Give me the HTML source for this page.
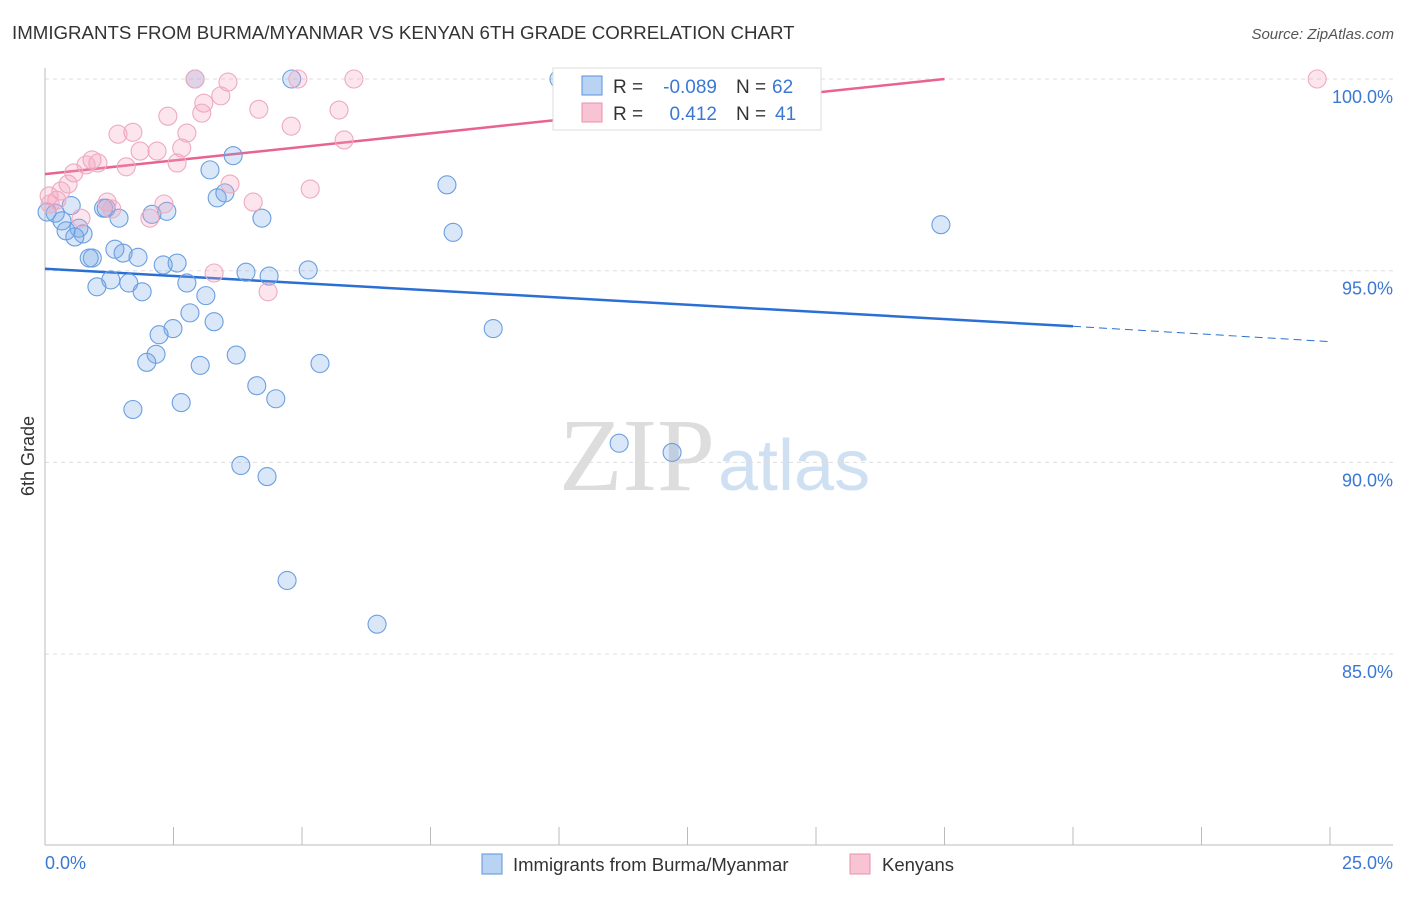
<!DOCTYPE html>
<html><head><meta charset="utf-8"><style>
body{margin:0;background:#fff;font-family:"Liberation Sans",sans-serif}
</style></head><body>
<svg width="1406" height="892" xmlns="http://www.w3.org/2000/svg">
<text x="12" y="39" font-size="18.7" fill="#333">IMMIGRANTS FROM BURMA/MYANMAR VS KENYAN 6TH GRADE CORRELATION CHART</text>
<text x="1394" y="39" font-size="15" fill="#555" font-style="italic" text-anchor="end">Source: ZipAtlas.com</text>
<text x="715" y="490" font-size="104" fill="#ddd" text-anchor="end" font-family="Liberation Serif">ZIP</text>
<text x="718" y="490" font-size="72" fill="#cfe0f3">atlas</text>
<g id="grid"></g>
<line x1="45" y1="68" x2="45" y2="845" stroke="#bbb"/>
<line x1="45" y1="845" x2="1393" y2="845" stroke="#bbb"/>
<text x="34" y="456" font-size="18" fill="#333" transform="rotate(-90 34 456)" text-anchor="middle">6th Grade</text>
<text x="45" y="869" font-size="18" fill="#3a78d4">0.0%</text>
<text x="1393" y="869" font-size="18" fill="#3a78d4" text-anchor="end">25.0%</text>
<g id="ticks"></g>
<g id="lines"></g>
<g id="pts"></g>
<g>
<rect x="553" y="68" width="268" height="62" fill="#fff" stroke="#ddd"/>
<rect x="582" y="76" width="20" height="19" fill="#b9d3f3" stroke="#5a92dc"/>
<rect x="582" y="103" width="20" height="19" fill="#f8c3d3" stroke="#e891ae"/>
<text x="613" y="93" font-size="19" fill="#333">R =</text>
<text x="717" y="93" font-size="19" fill="#3a78d4" text-anchor="end">-0.089</text>
<text x="736" y="93" font-size="19" fill="#333">N =</text>
<text x="772" y="93" font-size="19" fill="#3a78d4">62</text>
<text x="613" y="120" font-size="19" fill="#333">R =</text>
<text x="717" y="120" font-size="19" fill="#3a78d4" text-anchor="end">0.412</text>
<text x="736" y="120" font-size="19" fill="#333">N =</text>
<text x="775" y="120" font-size="19" fill="#3a78d4">41</text>
</g>
<g>
<rect x="482" y="854" width="20" height="20" fill="#b9d3f3" stroke="#5a92dc"/>
<text x="513" y="871" font-size="18.5" fill="#333">Immigrants from Burma/Myanmar</text>
<rect x="850" y="854" width="20" height="20" fill="#f8c3d3" stroke="#e891ae"/>
<text x="882" y="871" font-size="18.5" fill="#333">Kenyans</text>
</g>
</svg>
<script>
const yTicks=[100,95,90,85];
const xTicks=[0,2.5,5,7.5,10,12.5,15,17.5,20,22.5,25];
const blueX=[2.92,4.8,10.0,12.84,3.66,3.21,7.82,3.35,3.5,0.51,1.14,1.19,2.08,2.37,4.22,1.44,0.2,0.04,0.33,0.66,0.41,0.74,0.58,7.94,17.43,1.36,1.52,1.81,0.92,0.86,2.3,2.57,3.91,4.36,5.12,1.28,1.63,2.76,1.01,1.89,3.13,2.82,3.29,2.49,2.22,8.72,2.16,3.72,1.98,3.02,5.35,4.12,4.49,2.65,1.71,11.17,12.2,3.81,4.32,4.71,6.46];
const blueY=[100,100,100,100,98.0,97.63,97.24,96.9,97.03,96.7,96.63,96.63,96.47,96.55,96.37,96.37,96.5,96.53,96.3,96.11,96.04,95.96,95.88,96.0,96.2,95.56,95.46,95.35,95.33,95.33,95.15,95.2,94.96,94.86,95.02,94.76,94.68,94.68,94.58,94.45,94.35,93.9,93.67,93.49,93.33,93.49,92.82,92.8,92.61,92.53,92.58,92.0,91.66,91.56,91.38,90.5,90.26,89.92,89.63,86.92,85.78];
const pinkX=[2.92,3.56,4.92,6.01,10.31,24.75,3.42,3.09,3.05,2.39,4.16,5.72,4.79,1.71,1.42,2.76,5.82,2.66,2.18,1.85,0.915,1.03,0.8,2.57,1.58,0.56,0.45,0.31,3.6,5.16,4.05,1.21,2.315,0.08,0.23,0.1,1.3,2.04,0.7,3.29,4.34];
const pinkY=[100,99.92,100,100,100,100,99.56,99.37,99.11,99.03,99.21,99.19,98.77,98.61,98.56,98.59,98.41,98.2,98.12,98.12,97.89,97.81,97.76,97.81,97.71,97.55,97.26,97.08,97.26,97.13,96.79,96.79,96.74,96.95,96.84,96.74,96.61,96.37,96.37,94.94,94.45];
const trendBlue=[95.05,93.55,93.15];
const trendPink=[97.52,100];
const NS='http://www.w3.org/2000/svg';
const X=v=>45+v/25*1285, Y=v=>79+(100-v)*191.7/5;
function mk(t,a,p){const e=document.createElementNS(NS,t);for(const k in a)e.setAttribute(k,a[k]);document.getElementById(p).appendChild(e);return e;}
yTicks.forEach(t=>{
 const l=mk('line',{x1:45,x2:1393,y1:Y(t),y2:Y(t),stroke:'#ddd','stroke-dasharray':'4,4'},'grid');
 
 
 const s=mk('text',{x:1393,y:Y(t)+24,'font-size':18,fill:'#3a78d4','text-anchor':'end'},'grid');
 s.textContent=t.toFixed(1)+'%';
 
 
});
xTicks.forEach(t=>{
 const l=mk('line',{x1:X(t),x2:X(t),y1:827,y2:845,stroke:'#bbb'},'ticks');
 
 
});
let l1=mk('line',{x1:X(0),y1:Y(trendPink[0]),x2:X(17.5),y2:Y(trendPink[1]),stroke:'#e8648e','stroke-width':2.5},'lines');


let l2=mk('line',{x1:X(0),y1:Y(trendBlue[0]),x2:X(20),y2:Y(trendBlue[1]),stroke:'#2a6fd4','stroke-width':2.5},'lines');


let l3=mk('line',{x1:X(20),y1:Y(trendBlue[1]),x2:X(25),y2:Y(trendBlue[2]),stroke:'#2a6fd4','stroke-width':1,'stroke-dasharray':'8,5'},'lines');


blueX.forEach((x,i)=>{
 const c=mk('circle',{cx:X(x),cy:Y(blueY[i]),r:9,fill:'rgba(120,170,230,0.28)',stroke:'#6a9fe0','stroke-width':1.1},'pts');
 
 
});
pinkX.forEach((x,i)=>{
 const c=mk('circle',{cx:X(x),cy:Y(pinkY[i]),r:9,fill:'rgba(245,160,190,0.28)',stroke:'#eeaac0','stroke-width':1.1},'pts');
 
 
});
</script>
</body></html>
